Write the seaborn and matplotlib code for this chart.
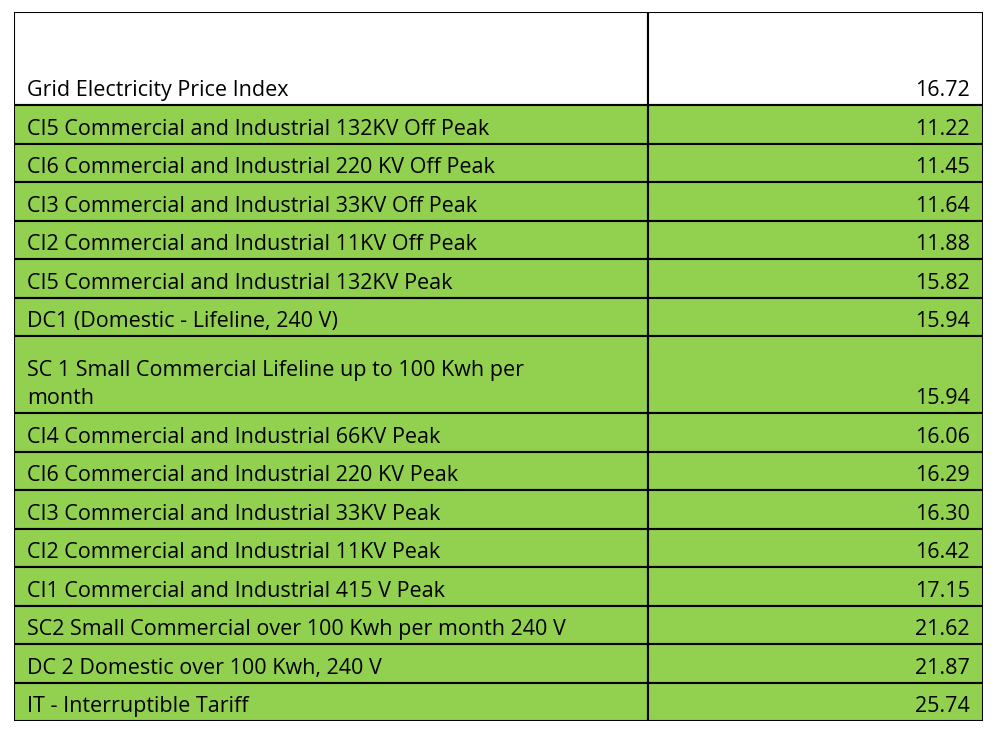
import numpy as np
import seaborn as sns
from matplotlib import pyplot as plt

sns.set_style('white')

header_label = 'Grid Electricity Price Index'
header_value = 16.72
labels = [
    'CI5 Commercial and Industrial 132KV Off Peak',
    'CI6 Commercial and Industrial 220 KV Off Peak',
    'CI3 Commercial and Industrial 33KV Off Peak',
    'CI2 Commercial and Industrial 11KV Off Peak',
    'CI5 Commercial and Industrial 132KV Peak',
    'DC1 (Domestic - Lifeline, 240 V)',
    'SC 1 Small Commercial Lifeline up to 100 Kwh per\nmonth',
    'CI4 Commercial and Industrial 66KV Peak',
    'CI6 Commercial and Industrial 220 KV Peak',
    'CI3 Commercial and Industrial 33KV Peak',
    'CI2 Commercial and Industrial 11KV Peak',
    'CI1 Commercial and Industrial 415 V Peak',
    'SC2 Small Commercial over 100 Kwh per month 240 V',
    'DC 2 Domestic over 100 Kwh, 240 V',
    'IT - Interruptible Tariff',
]
values = [11.22, 11.45, 11.64, 11.88, 15.82, 15.94, 15.94, 16.06,
          16.29, 16.30, 16.42, 17.15, 21.62, 21.87, 25.74]

green = '#92D050'
col_w = [634, 335]
header_h = 2.42
row_h = np.array([2.0 if '\n' in s else 1.0 for s in labels])

all_labels = [header_label] + labels
all_values = [header_value] + values
heights = np.concatenate([[header_h], row_h])
tops = np.concatenate([[0], np.cumsum(heights)[:-1]])
colors = ['white'] + [green] * len(labels)

fig = plt.figure(figsize=(9.94, 7.34), dpi=100)
ax = fig.add_axes([14 / 994, 1 - 721 / 734, 969 / 994, 709 / 734])
ax.set_xlim(0, sum(col_w))
ax.set_ylim(heights.sum(), 0)
ax.axis('off')

for lab, val, h, t, c in zip(all_labels, all_values, heights, tops, colors):
    ax.barh(t, col_w[0], height=h, left=0, align='edge', color=c, edgecolor='black', linewidth=1.5)
    ax.barh(t, col_w[1], height=h, left=col_w[0], align='edge', color=c, edgecolor='black', linewidth=1.5)
    ax.text(13, t + h - 0.1, lab, ha='left', va='bottom', fontsize=15.5,
            family='Open Sans', color='black', linespacing=1.45)
    ax.text(sum(col_w) - 13, t + h - 0.1, f'{val:.2f}', ha='right', va='bottom',
            fontsize=15.5, family='Open Sans', color='black')

fig.savefig('out.png', dpi=100)
